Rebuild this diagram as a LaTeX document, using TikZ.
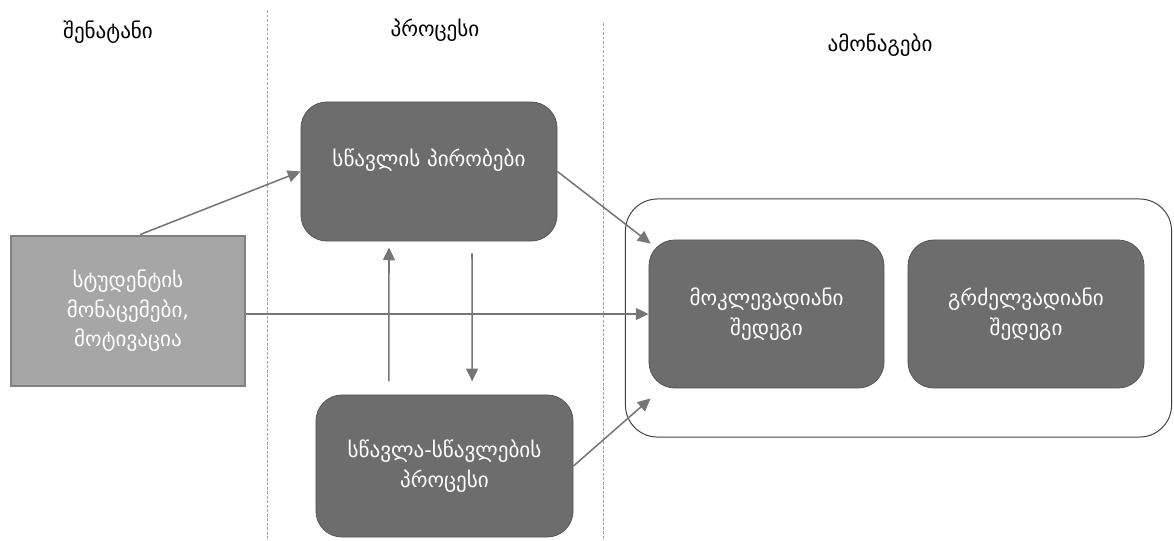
\documentclass[tikz,border=0pt]{standalone}
\usepackage{fontspec}
\setmainfont{DejaVu Sans}
\newfontfamily\geofont[Script=Georgian]{DejaVu Sans}
\usetikzlibrary{arrows.meta}

\definecolor{boxdark}{HTML}{6D6D6D}
\definecolor{boxlight}{HTML}{A6A6A6}
\definecolor{arrowgray}{HTML}{767676}

\begin{document}
\begin{tikzpicture}[x=0.025cm, y=-0.025cm,
    every node/.style={font=\geofont\fontsize{15}{21}\selectfont},
    darkbox/.style={draw=boxdark!80!black, fill=boxdark, rounded corners=0.65cm,
      text=white, align=center, line width=0.6pt},
    arr/.style={-{Triangle[length=3.2mm,width=3mm]}, color=arrowgray, line width=1.1pt},
    sep/.style={color=gray!70, line width=0.5pt, dash pattern=on 2pt off 1.2pt}]
    \useasboundingbox (0,0) rectangle (1174,540);

    % column headings
    \node at (108,32) (inhead) {შენატანი};
    \node at (435,30) (prochead) {პროცესი};
    \node at (880,45) (outhead) {ამონაგები};

    \draw[sep] (267,10) -- (267,540);
    \draw[sep] (603,23) -- (603,540);

    % input
    \node[draw=gray, fill=boxlight, line width=2pt, text=white, align=center,
      minimum width=5.85cm, minimum height=3.75cm] at (128,311) (input)
      {სტუდენტის\\მონაცემები,\\მოტივაცია};

    % process
    \node[darkbox, minimum width=6.4cm, minimum height=3.475cm] at (429,171.5) (cond) {};
    \node[text=white] at (429,160) (condtext) {სწავლის პირობები};
    \node[darkbox, minimum width=6.425cm, minimum height=3.55cm] at (444.5,466) (process)
      {სწავლა-სწავლების\\პროცესი};

    % output
    \node[draw=black!75, rounded corners=0.8cm, line width=0.7pt,
      minimum width=13.65cm, minimum height=5.95cm] at (898.5,318) (outcome) {};
    \node[darkbox, minimum width=5.875cm, minimum height=3.7cm] at (766.5,314) (short)
      {მოკლევადიანი\\შედეგი};
    \node[darkbox, minimum width=5.9cm, minimum height=3.7cm] at (1026,314) (long)
      {გრძელვადიანი\\შედეგი};

    \draw[arr] ([xshift=0.3cm]input.north) to (cond.west);
    \draw[arr] (cond.east) to ([xshift=0.05cm,yshift=-0.1cm]short.north west);
    \draw[arr] (input.east |- short.west) to (short.west);
    \draw[arr] (process.east) to ([xshift=0.05cm,yshift=-0.25cm]short.south west);

    \draw[arr] ([xshift=-1.39cm,yshift=0.33cm]process.north) to ([xshift=-1cm,yshift=-0.15cm]cond.south);
    \draw[arr] ([xshift=1.075cm,yshift=-0.3cm]cond.south) to ([xshift=0.69cm,yshift=0.33cm]process.north);
\end{tikzpicture}
\end{document}
